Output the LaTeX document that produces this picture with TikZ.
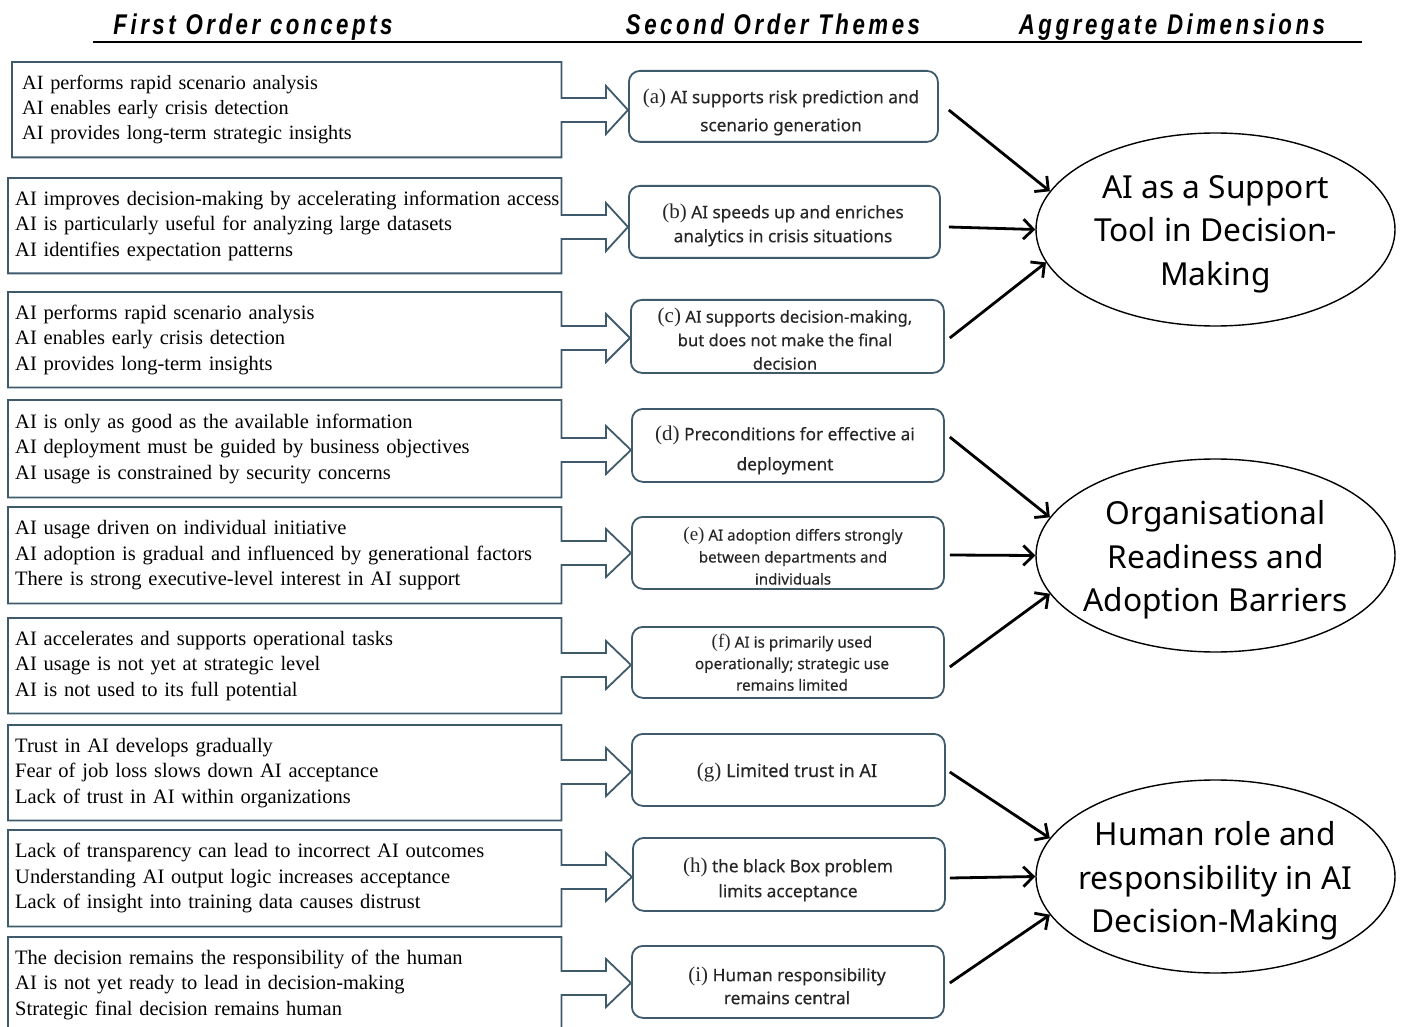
\documentclass[tikz,border=0pt]{standalone}
\usepackage{fontspec}
\setmainfont{Liberation Serif}
\newfontfamily\midfont[FakeBold=0.35]{Noto Sans}
\newfontfamily\ellfont{Noto Sans}
\newfontfamily\headfont[FakeStretch=0.78,LetterSpace=12.5]{Liberation Sans}
\usetikzlibrary{arrows.meta,shapes.geometric}
\definecolor{boxc}{HTML}{3E5A6B}
\definecolor{midtext}{HTML}{262626}

\newcommand\lbl[1]{{\rmfamily\fontsize{21}{21}\selectfont(#1)}}
% block-arrow outline from left box to mid box
\newcommand\rowshape[2]{%
  \pgfmathsetmacro\ya{#2-24}\pgfmathsetmacro\yb{#2-12}%
  \pgfmathsetmacro\yc{#2+12}\pgfmathsetmacro\yd{#2+24}%
  \draw[outl] (L#1.north west) -- (L#1.north east) -- (L#1.east |- 0,\yb)
    -- (606,\yb) -- (606,\ya) -- (M#1.west |- 0,#2) -- (606,\yd) -- (606,\yc)
    -- (L#1.east |- 0,\yc) -- (L#1.south east) -- (L#1.south west) -- cycle;}

\begin{document}
\begin{tikzpicture}[x=1pt,y=-1pt,
  outl/.style={draw=boxc,line width=1.8pt,line join=miter},
  lbox/.style={rectangle,anchor=north west,inner xsep=7pt,inner ysep=0pt,
    minimum width=553pt,minimum height=95pt,text width=539pt,align=left,
    font=\fontsize{20.5}{25.5}\selectfont,text=black},
  mbox/.style={rectangle,rounded corners=11pt,draw=boxc,line width=1.8pt,
    anchor=north west,inner sep=0pt},
  mtext/.style={align=center,text=midtext,inner sep=0pt,
    font=\midfont\fontsize{17.2}{26}\selectfont},
  ell/.style={ellipse,draw=black,line width=1.4pt,fill=white,inner sep=0pt,
    minimum width=359pt,minimum height=193pt},
  etext/.style={align=center,inner sep=0pt,
    font=\ellfont\fontsize{31.7}{43.5}\selectfont},
  hd/.style={anchor=base,font=\headfont\bfseries\itshape\fontsize{28.5}{28.5}\selectfont},
  arr/.style={line width=2.8pt,-{Straight Barb[length=10pt,width=20pt]}}]
\useasboundingbox (0,0) rectangle (1401,1027);

% headers
\node[hd] (H1) at (253,35) {First Order concepts};
\node[hd] (H2) at (773,35) {Second Order Themes};
\node[hd] (H3) at (1172,35) {Aggregate Dimensions};
\draw[line width=2pt] (93,42) -- (1362,42);

% left boxes
\node[lbox,minimum width=549pt,inner xsep=10pt,text width=529pt,font=\fontsize{20.25}{25}\selectfont] (L1) at (12,62) {AI performs rapid scenario analysis\\AI enables early crisis detection\\AI provides long-term strategic insights};
\node[lbox] (L2) at (8,178) {\mbox{AI improves decision-making by accelerating information access}\\AI is particularly useful for analyzing large datasets\\AI identifies expectation patterns};
\node[lbox] (L3) at (8,292) {AI performs rapid scenario analysis\\AI enables early crisis detection\\AI provides long-term insights};
\node[lbox,minimum height=97pt] (L4) at (8,400) {AI is only as good as the available information\\AI deployment must be guided by business objectives\\AI usage is constrained by security concerns};
\node[lbox,minimum height=96pt] (L5) at (8,507) {AI usage driven on individual initiative\\AI adoption is gradual and influenced by generational factors\\There is strong executive-level interest in AI support};
\node[lbox] (L6) at (8,618) {AI accelerates and supports operational tasks\\AI usage is not yet at strategic level\\AI is not used to its full potential};
\node[lbox] (L7) at (8,725) {Trust in AI develops gradually\\Fear of job loss slows down AI acceptance\\Lack of trust in AI within organizations};
\node[lbox,minimum height=96pt] (L8) at (8,830) {Lack of transparency can lead to incorrect AI outcomes\\Understanding AI output logic increases acceptance\\Lack of insight into training data causes distrust};
\node[lbox] (L9) at (8,937) {The decision remains the responsibility of the human\\AI is not yet ready to lead in decision-making\\Strategic final decision remains human};

% second order theme boxes
\node[mbox,minimum width=309pt,minimum height=71pt] (M1) at (628,70) {};
\node[mbox,minimum width=311pt,minimum height=72pt] (M2) at (628,185) {};
\node[mbox,minimum width=313pt,minimum height=73pt] (M3) at (630,299) {};
\node[mbox,minimum width=312pt,minimum height=73pt] (M4) at (631,408) {};
\node[mbox,minimum width=312pt,minimum height=72pt] (M5) at (631,516) {};
\node[mbox,minimum width=312pt,minimum height=71pt] (M6) at (631,626) {};
\node[mbox,minimum width=313pt,minimum height=72pt] (M7) at (631,733) {};
\node[mbox,minimum width=312pt,minimum height=73pt] (M8) at (632,837) {};
\node[mbox,minimum width=312pt,minimum height=72pt] (M9) at (631,945) {};

\node[mtext,font=\midfont\fontsize{17.2}{28}\selectfont] (T1) at (781,112) {\lbl{a} AI supports risk prediction and\\scenario generation};
\node[mtext,font=\midfont\fontsize{17.2}{24}\selectfont] (T2) at (783,225) {\lbl{b} AI speeds up and enriches\\analytics in crisis situations};
\node[mtext,font=\midfont\fontsize{16.6}{23.5}\selectfont] (T3) at (785,339) {\lbl{c} AI supports decision-making,\\but does not make the final\\decision};
\node[mtext,font=\midfont\fontsize{17.2}{30}\selectfont] (T4) at (785,450) {\lbl{d} Preconditions for effective ai\\deployment};
\node[mtext,font=\midfont\fontsize{15.1}{22}\selectfont] (T5) at (793,556) {{\rmfamily\fontsize{19}{19}\selectfont(e)} AI adoption differs strongly\\between departments and\\individuals};
\node[mtext,font=\midfont\fontsize{15.3}{21.5}\selectfont] (T6) at (792,662.5) {{\rmfamily\fontsize{19}{19}\selectfont(f)} AI is primarily used\\operationally; strategic use\\remains limited};
\node[mtext,font=\midfont\fontsize{18}{26}\selectfont] (T7) at (787,772) {\lbl{g} Limited trust in AI};
\node[mtext,font=\midfont\fontsize{17.2}{25}\selectfont] (T8) at (788,879.5) {\lbl{h} the black Box problem\\limits acceptance};
\node[mtext,font=\midfont\fontsize{17.3}{23}\selectfont] (T9) at (787,985.5) {\lbl{i} Human responsibility\\remains central};

% block arrows
\rowshape{1}{110}
\rowshape{2}{227}
\rowshape{3}{338}
\rowshape{4}{450}
\rowshape{5}{553}
\rowshape{6}{665}
\rowshape{7}{772}
\rowshape{8}{877}
\rowshape{9}{983}

% aggregate dimensions
\node[ell] (E1) at (1215.5,229.5) {};
\node[ell] (E2) at (1215.5,555.5) {};
\node[ell] (E3) at (1215.5,876.5) {};
\node[etext] (X1) at (1215.5,234) {AI as a Support\\Tool in Decision-\\Making};
\node[etext] (X2) at (1215.5,560) {Organisational\\Readiness and\\Adoption Barriers};
\node[etext] (X3) at (1215.5,881) {Human role and\\responsibility in AI\\Decision-Making};

% connectors
\draw[arr] (M1.east |- 0,110) ++(10,0) -- (E1.167);
\draw[arr] (M2.east |- 0,227) ++(8,0) -- (E1.west);
\draw[arr] (M3.east |- 0,338) ++(5,0) -- (E1.191);
\draw[arr] (M4.east |- 0,437) ++(5,0) -- (E2.167);
\draw[arr] (M5.east |- 0,555) ++(5,0) -- (E2.west);
\draw[arr] (M6.east |- 0,667) ++(5,0) -- (E2.193);
\draw[arr] (M7.east |- 0,772) ++(4,0) -- (E3.167);
\draw[arr] (M8.east |- 0,878) ++(4,0) -- (E3.west);
\draw[arr] (M9.east |- 0,983) ++(5,0) -- (E3.193);
\end{tikzpicture}
\end{document}
